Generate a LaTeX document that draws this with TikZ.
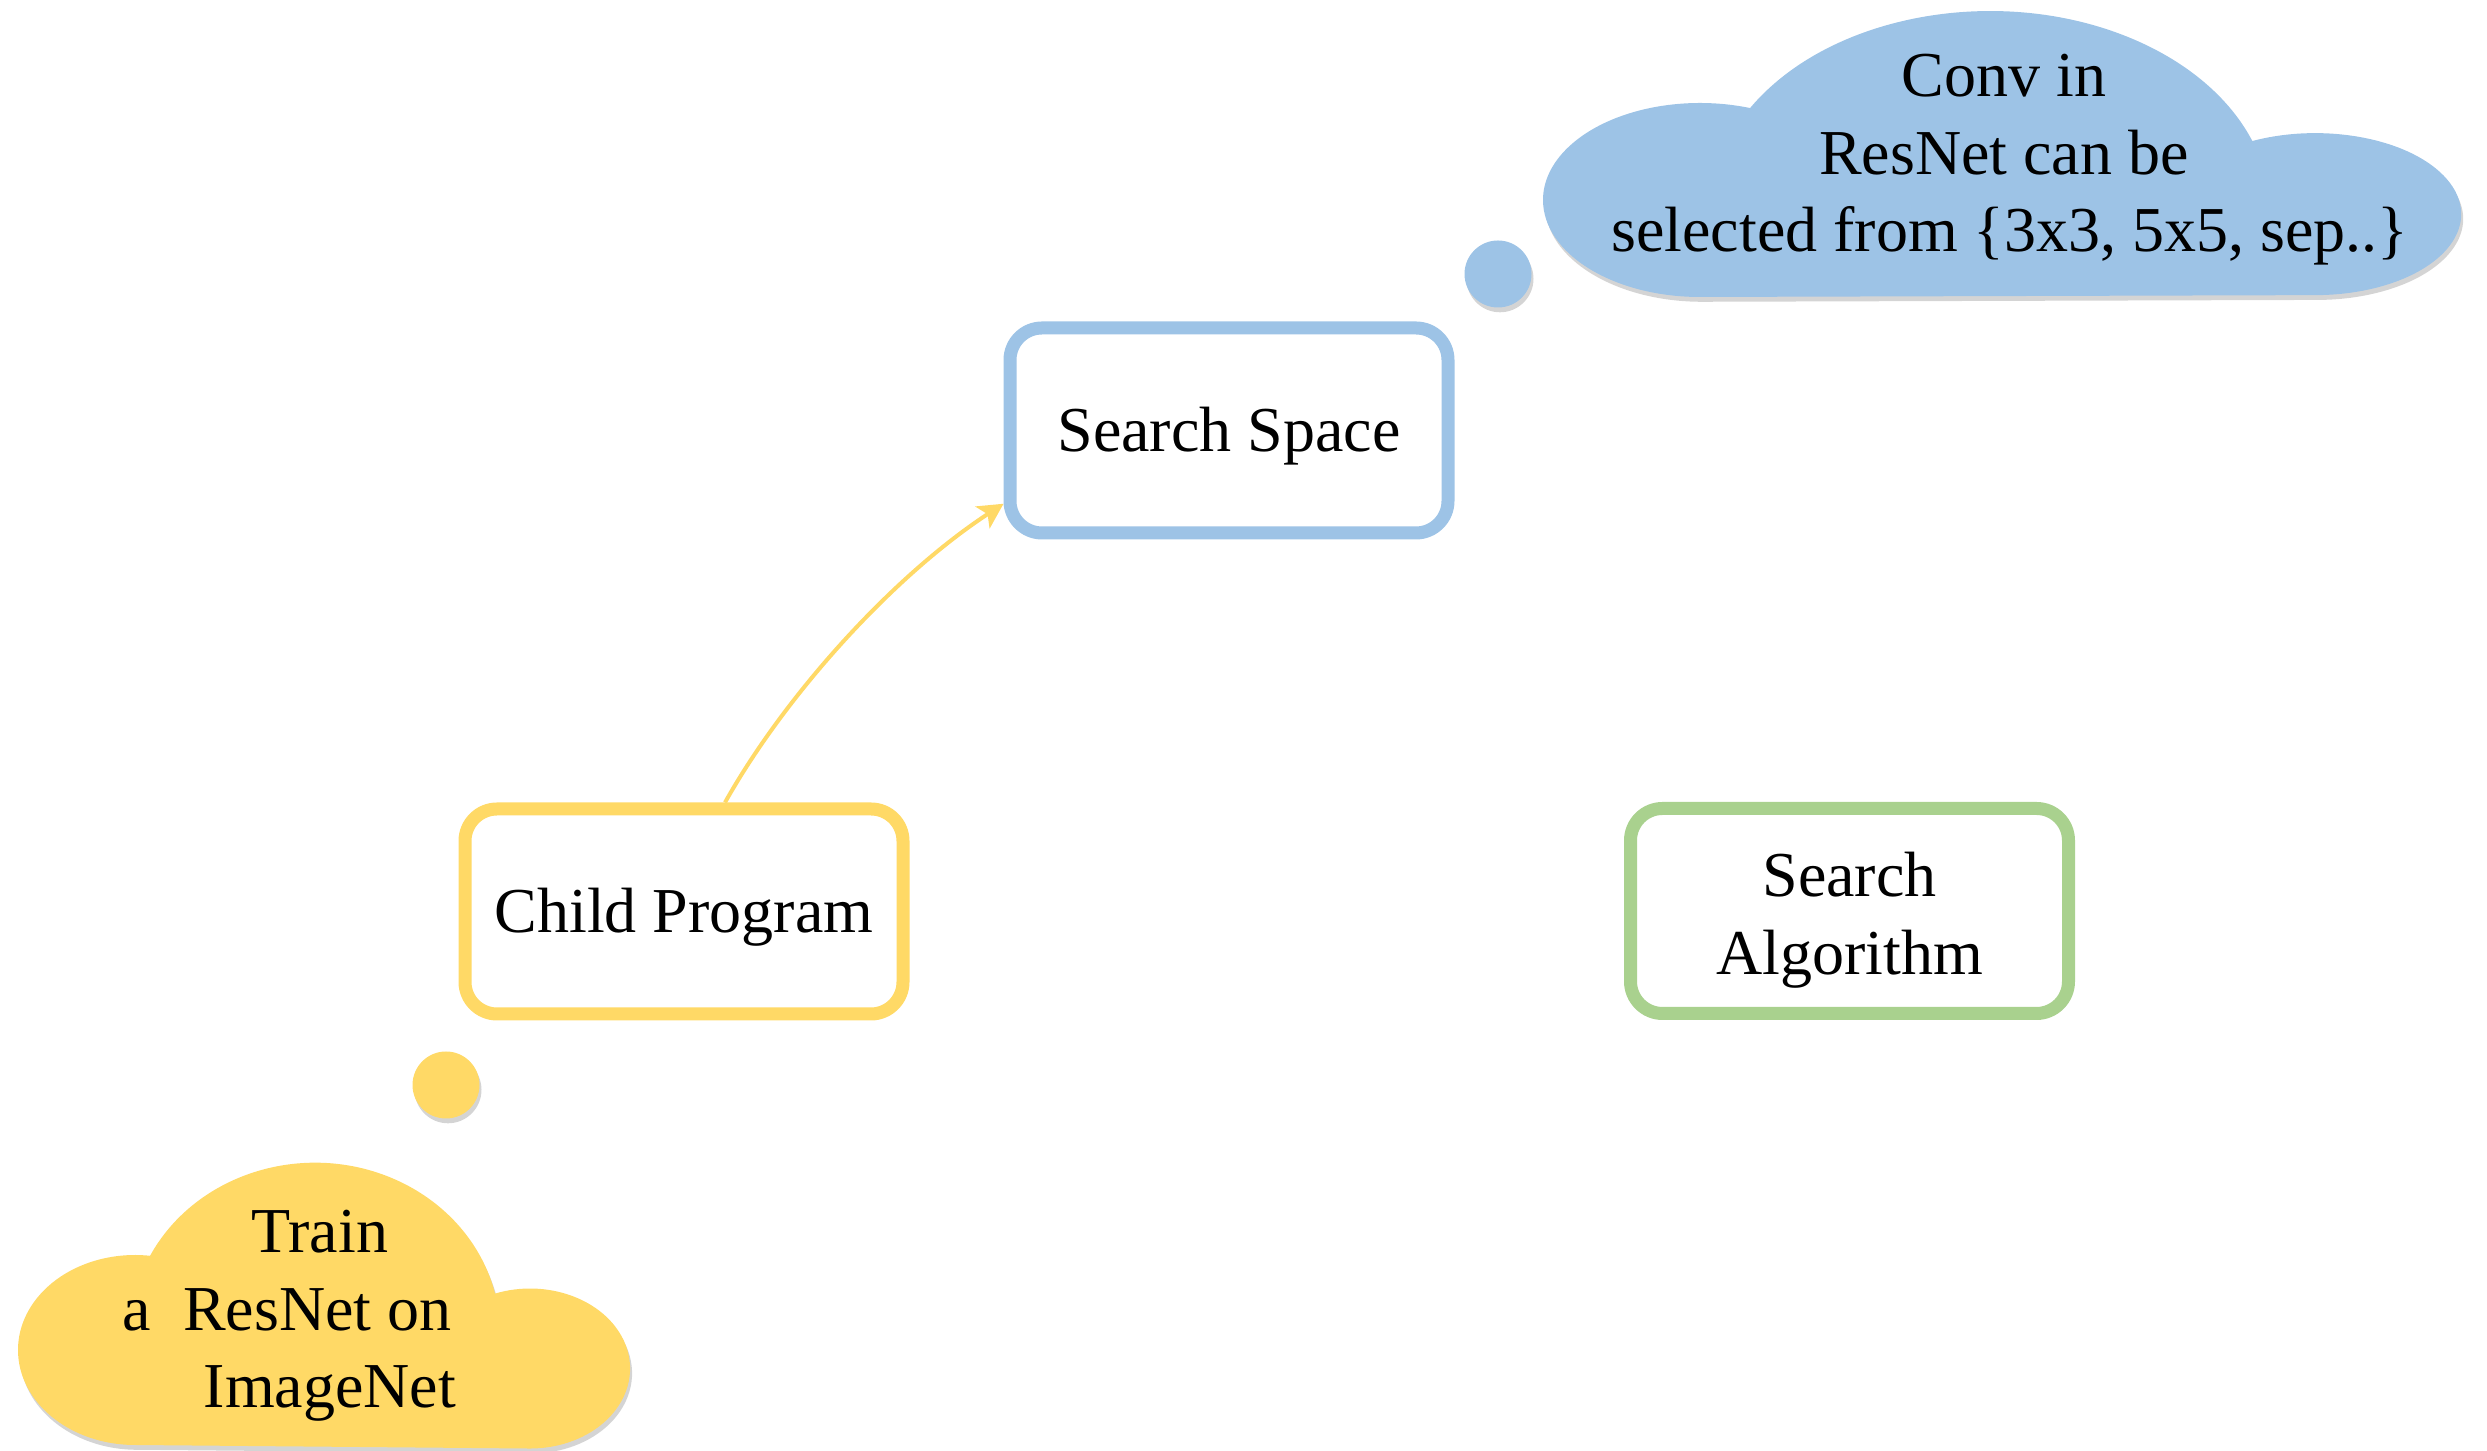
\documentclass[tikz,border=0pt]{standalone}
\usepackage{fontspec}
\setmainfont{Liberation Serif}
\usetikzlibrary{arrows.meta,shadows}
\definecolor{gold}{HTML}{FFD966}
\definecolor{sky}{HTML}{9DC3E6}
\definecolor{leaf}{HTML}{A9D18E}
\begin{document}
\begin{tikzpicture}[x=0.25pt,y=-0.25pt,
  every node/.style={font=\fontsize{16}{19.4}\selectfont, text=black},
  stagebox/.style={draw, line width=3.25pt, rounded corners=8pt, fill=white,
    minimum width=109.5pt, minimum height=51.25pt, align=center, inner sep=0pt,
    text height=14pt},
  soft shadow/.style={drop shadow={shadow xshift=0.5pt, shadow yshift=-1.2pt,
    opacity=0.28, fill=black!60}},
  bubble/.style={circle, minimum size=16.75pt, inner sep=0pt, soft shadow},
  flow/.style={draw=gold, line width=1pt,
    -{Stealth[length=6.25pt, width=6.5pt, inset=1.5pt]}}
]
\useasboundingbox (0,0) rectangle (2487,1451);

% blue thought cloud: left lobe, top lobe, right lobe, flat bottom
\fill[sky, soft shadow] (1700,297)
  arc[start angle=90, end angle=288.6, x radius=157, y radius=97]
  arc[start angle=211, end angle=339.5, x radius=280, y radius=200]
  arc[start angle=244.5, end angle=450, x radius=146, y radius=81] -- cycle;
\node[align=center] (convtxt) at (2004,160)
  {Conv in\\ResNet can be\\\hspace*{3pt}selected from \{3x3, 5x5, sep..\}};
\node[bubble, fill=sky] (skybub) at (1498,274) {};

% yellow thought cloud
\fill[gold, soft shadow] (135,1445)
  arc[start angle=90, end angle=277.4, x radius=117, y radius=95]
  arc[start angle=206.9, end angle=346.7, x radius=185, y radius=170]
  arc[start angle=249.5, end angle=450, x radius=100, y radius=80] -- cycle;
\node[anchor=west, align=left, inner sep=0pt] (traintxt) at (122,1316)
  {\hspace*{32.25pt}Train\\a\ \ ResNet on\\\hspace*{20.25pt}ImageNet};
\node[bubble, fill=gold] (goldbub) at (446,1085) {};

% the three stages
\node[stagebox, draw=sky] (ss) at (1229,430.5) {Search Space};
\node[stagebox, draw=gold] (cp) at (684,911.5) {Child Program};
\node[stagebox, draw=leaf, text height=35pt] (sa) at (1849.5,911) {Search\\Algorithm};

% child program -> search space
\draw[flow] ([xshift=10.25pt]cp.north) .. controls (787,692) and (896,574) .. (ss.198);
\end{tikzpicture}
\end{document}
